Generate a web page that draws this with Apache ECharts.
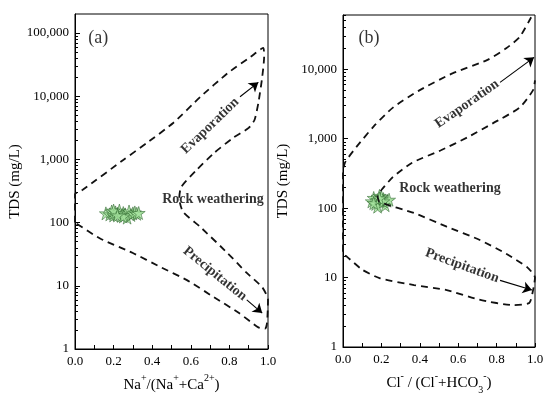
<!DOCTYPE html>
<html>
<head>
<meta charset="utf-8">
<script src="https://cdn.jsdelivr.net/npm/echarts@6/dist/echarts.min.js"></script>
<style>
  html, body { margin: 0; padding: 0; background: #fff; }
  #main { width: 546px; height: 394px; }
</style>
</head>
<body>
<div id="main"></div>
<script>
// Gibbs diagrams: TDS vs Na/(Na+Ca) and Cl/(Cl+HCO3)
const xTicks = [0, 0.2, 0.4, 0.6, 0.8, 1.0];
const tdsTicksA = [1, 10, 100, 1000, 10000, 100000];
const tdsTicksB = [1, 10, 100, 1000, 10000];
const tdsMaxA = 200000;
const tdsMaxB = 60300;

// boundary of the Gibbs field, [ratio, TDS]
const boundaryA = [
  [0, 100], [0, 280], [0.04, 330], [0.25, 980], [0.37, 1800], [0.51, 3800], [0.65, 9800],
  [0.79, 23000], [0.91, 42000], [0.975, 58000], [0.98, 42000], [0.97, 20000], [0.95, 7800],
  [0.93, 4200], [0.9, 3150], [0.82, 2200], [0.72, 1260], [0.63, 680], [0.55, 365], [0.54, 240],
  [0.56, 148], [0.65, 85], [0.79, 33], [0.89, 16], [0.97, 9.5], [1.0, 6], [0.995, 2.6],
  [0.985, 2.1], [0.95, 2.2], [0.85, 3.7], [0.72, 6.6], [0.58, 12.3], [0.44, 20], [0.3, 33],
  [0.13, 56], [0, 100]
];
const boundaryB = [
  [0.98, 56000], [0.92, 29000], [0.85, 20000], [0.75, 13500], [0.57, 8700], [0.4, 5000],
  [0.26, 2800], [0.16, 1500], [0.07, 760], [0.01, 450], [0, 320], [0, 22], [0.02, 20],
  [0.1, 13], [0.19, 9.8], [0.37, 7.8], [0.54, 6.6], [0.71, 4.8], [0.89, 4.0], [0.97, 4.3],
  [0.99, 6.6], [1.0, 10], [0.96, 14], [0.85, 22], [0.71, 35], [0.54, 54], [0.37, 85],
  [0.19, 123], [0.18, 150], [0.2, 182], [0.26, 280], [0.36, 450], [0.51, 680], [0.65, 1050],
  [0.78, 1660], [0.92, 2800], [0.99, 5000], [1.0, 6900]
];

// samples
const samplesA = [
  [0.16, 140], [0.18, 135], [0.19, 150], [0.2, 130], [0.21, 145], [0.22, 138], [0.23, 155],
  [0.24, 128], [0.25, 142], [0.26, 135], [0.27, 120], [0.28, 150], [0.29, 132], [0.3, 140],
  [0.31, 145], [0.32, 138], [0.2, 155], [0.25, 125], [0.22, 130], [0.33, 142]
];
const samplesB = [
  [0.15, 125], [0.16, 140], [0.17, 115], [0.18, 130], [0.19, 150], [0.2, 120], [0.21, 135],
  [0.22, 110], [0.23, 128], [0.18, 105], [0.2, 145], [0.16, 118], [0.24, 132], [0.21, 125],
  [0.19, 138]
];

// annotations: [text, ratio, TDS, rotate]
const notesA = [
  ['(a)', 0.12, 83000, 0],
  ['Evaporation', 0.70, 3400, 44],
  ['Rock weathering', 0.715, 235, 0],
  ['Precipitation', 0.725, 15.5, -39]
];
const notesB = [
  ['(b)', 0.135, 28000, 0],
  ['Evaporation', 0.646, 3160, 35],
  ['Rock weathering', 0.557, 195, 0],
  ['Precipitation', 0.62, 14.8, -20]
];
// arrows: [fromRatio, fromTDS, toRatio, toTDS]
const arrowsA = [[0.855, 9800, 0.95, 16600], [0.89, 6.0, 0.97, 3.7]];
const arrowsB = [[0.818, 6450, 0.995, 14800], [0.818, 9.1, 0.984, 6.6]];

const FONT = 'Liberation Serif';
const INK = '#000';
const lg = v => Math.log10(v);
const toLog = arr => arr.map(p => [p[0], lg(p[1])]);
const minorVals = max => {
  const out = [];
  for (let n = 0; n < 6; n++) {
    for (let k = 2; k <= 9; k++) {
      const v = k * Math.pow(10, n);
      if (v < max) out.push(lg(v));
    }
  }
  return out;
};
const starPath = 'path://M50,0 L61,35 L98,35 L68,57 L79,91 L50,70 L21,91 L32,57 L2,35 L39,35 Z';

function xAxisOf(gi, rich, name) {
  return {
    gridIndex: gi, type: 'value', min: 0, max: 1, interval: 0.2,
    axisLine: { lineStyle: { color: INK, width: 1 } },
    axisTick: { inside: true, length: 4, lineStyle: { color: INK } },
    minorTick: { show: true, splitNumber: 2, length: 4, lineStyle: { color: INK } },
    splitLine: { show: false },
    axisLabel: { formatter: v => v.toFixed(1), color: INK, fontSize: 13, fontFamily: FONT, margin: 6 },
    name: name, nameLocation: 'middle', nameGap: 21,
    nameTextStyle: { color: INK, fontFamily: FONT, rich: rich }
  };
}
function yAxesOf(gi, ticks, max) {
  const lmax = lg(max);
  const vals = ticks.map(lg);
  return [{
    gridIndex: gi, type: 'value', min: 0, max: lmax, position: 'left',
    axisLine: { lineStyle: { color: INK, width: 1 } },
    axisTick: { customValues: vals, inside: true, length: 5, lineStyle: { color: INK } },
    splitLine: { show: false },
    axisLabel: {
      customValues: vals, color: INK, fontSize: 13, fontFamily: FONT, margin: 6,
      formatter: v => Math.round(Math.pow(10, v)).toLocaleString('en-US')
    },
    name: 'TDS (mg/L)', nameLocation: 'middle', nameGap: 52,
    nameTextStyle: { color: INK, fontSize: 15, fontFamily: FONT }
  }, {
    gridIndex: gi, type: 'value', min: 0, max: lmax, position: 'left', offset: 0,
    axisLine: { show: false },
    axisTick: { customValues: minorVals(max), inside: true, length: 3, lineStyle: { color: INK } },
    axisLabel: { show: false },
    splitLine: { show: false }
  }];
}

const nRich = {
  n: { fontSize: 15, fontFamily: FONT, color: INK, lineHeight: 20, verticalAlign: 'bottom' },
  sup: { fontSize: 10, fontFamily: FONT, color: INK, lineHeight: 20, verticalAlign: 'top' },
  sub: { fontSize: 10, fontFamily: FONT, color: INK, lineHeight: 20, verticalAlign: 'bottom', padding: [0, 0, -4, 0] }
};

function seriesOf(gi, boundary, samples, notes, arrows) {
  return [{
    type: 'line', xAxisIndex: gi, yAxisIndex: gi * 2,
    data: toLog(boundary), showSymbol: false, smooth: 0.2, silent: true,
    lineStyle: { color: '#111', width: 1.8, type: [7, 5] },
    markLine: {
      silent: true, symbol: ['none', 'arrow'], symbolSize: 9,
      label: { show: false },
      lineStyle: { color: INK, width: 1.1, type: 'solid' },
      data: arrows.map(a => [
        { coord: [a[0], lg(a[1])], symbol: 'none' },
        { coord: [a[2], lg(a[3])], symbol: 'arrow', symbolSize: 9 }
      ])
    }
  }, {
    type: 'scatter', xAxisIndex: gi, yAxisIndex: gi * 2,
    data: toLog(samples), symbol: starPath, symbolSize: 13,
    itemStyle: { color: '#a6e39f', borderColor: '#2b642b', borderWidth: 0.7 }
  }, {
    type: 'scatter', xAxisIndex: gi, yAxisIndex: gi * 2, symbolSize: 0, silent: true,
    itemStyle: { color: 'transparent' },
    data: notes.map(d => ({
      value: [d[1], lg(d[2])], name: d[0],
      label: {
        rotate: d[3],
        fontWeight: d[0].startsWith('(') ? 'normal' : 'bold',
        fontSize: d[0].startsWith('(') ? 18 : 14
      }
    })),
    label: {
      show: true, position: 'inside', formatter: p => p.name,
      color: INK, fontFamily: FONT, align: 'center', verticalAlign: 'middle',
      textBorderWidth: 0, textBorderColor: 'transparent'
    }
  }];
}

const chart = echarts.init(document.getElementById('main'));
chart.setOption({
  animation: false,
  backgroundColor: '#fff',
  grid: [
    { left: 75, top: 14, width: 193, height: 335, outerBoundsMode: 'none', show: true, borderColor: INK, borderWidth: 1 },
    { left: 343, top: 15, width: 192, height: 332, outerBoundsMode: 'none', show: true, borderColor: INK, borderWidth: 1 }
  ],
  xAxis: [
    xAxisOf(0, nRich, '{n|Na}{sup|+}{n|/(Na}{sup|+}{n|+Ca}{sup|2+}{n|)}'),
    xAxisOf(1, nRich, '{n|Cl}{sup|-}{n| / (Cl}{sup|-}{n|+HCO}{sub|3}{sup|-}{n|)}')
  ],
  yAxis: yAxesOf(0, tdsTicksA, tdsMaxA).concat(yAxesOf(1, tdsTicksB, tdsMaxB)),
  series: seriesOf(0, boundaryA, samplesA, notesA, arrowsA)
    .concat(seriesOf(1, boundaryB, samplesB, notesB, arrowsB))
});
</script>
</body>
</html>
